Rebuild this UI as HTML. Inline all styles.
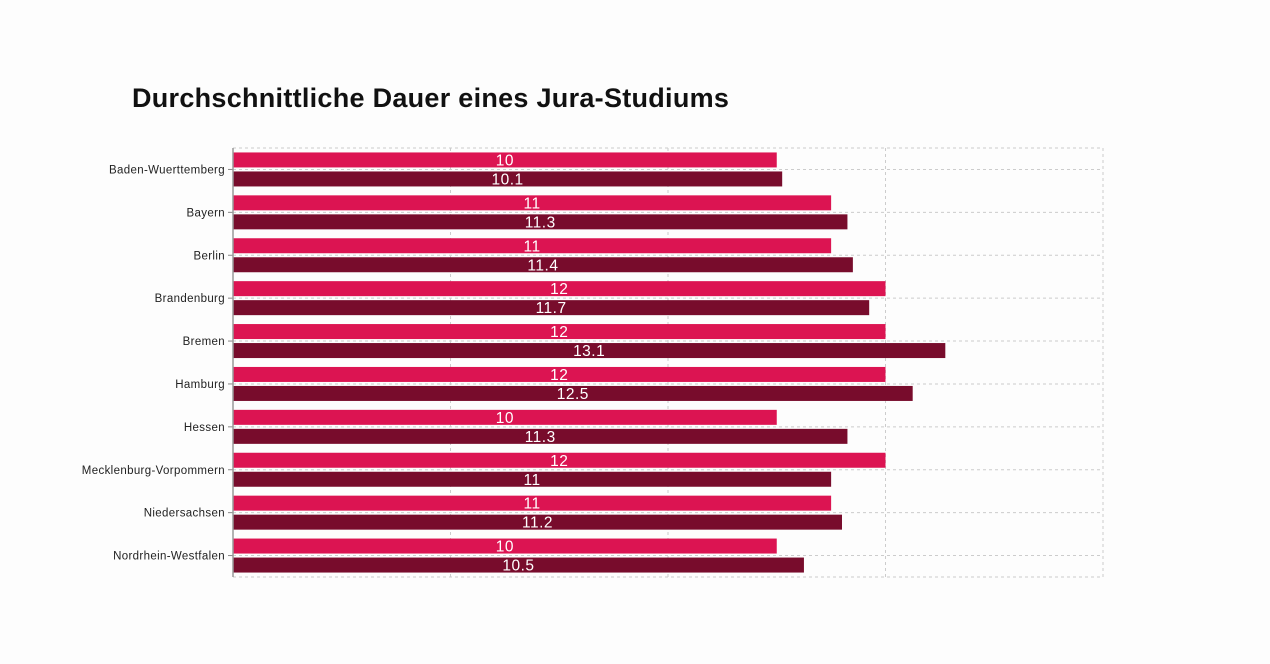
<!DOCTYPE html>
<html><head><meta charset="utf-8"><style>
body{margin:0;background:#fdfdfd;}
svg{display:block;font-family:"Liberation Sans",sans-serif;}
</style></head><body>
<svg id="chart" width="1270" height="664">
<text x="132" y="107" font-size="27" font-weight="bold" letter-spacing="0.28" fill="#111">Durchschnittliche Dauer eines Jura-Studiums</text>
<g id="grid"></g><g id="bars"></g><g id="axis"></g>
</svg>
<script>
const categories=["Baden-Wuerttemberg","Bayern","Berlin","Brandenburg","Bremen","Hamburg","Hessen","Mecklenburg-Vorpommern","Niedersachsen","Nordrhein-Westfalen"];
const series1=[10,11,11,12,12,12,10,12,11,10];
const series2=[10.1,11.3,11.4,11.7,13.1,12.5,11.3,11,11.2,10.5];
const xTicks=[0,4,8,12,16];
const NS="http://www.w3.org/2000/svg";
const x0=233,x1=1103,y0=148,y1=577,xMax=16;
const band=(y1-y0)/categories.length;
const xs=v=>x0+(v/xMax)*(x1-x0);
const ys=i=>y0+band*i;
function mk(t,a,p){const e=document.createElementNS(NS,t);for(const k in a)e.setAttribute(k,a[k]);p.appendChild(e);return e;}
const grid=document.getElementById('grid'),bars=document.getElementById('bars'),axis=document.getElementById('axis');
xTicks.forEach(t=>{const l=mk('line',{x1:xs(t),x2:xs(t),y1:y0,y2:y1,stroke:'#ccc','stroke-dasharray':'3,3'},grid);

});
mk('line',{x1:x0,x2:x1,y1:y0,y2:y0,stroke:'#ccc','stroke-dasharray':'3,3'},grid);
mk('line',{x1:x0,x2:x1,y1:y1,y2:y1,stroke:'#ccc','stroke-dasharray':'3,3'},grid);
categories.forEach((c,i)=>{
 const cy=ys(i)+band/2;
 const b1=mk('rect',{x:x0,y:cy-17,width:xs(series1[i])-x0,height:15,fill:'#dc1452'},bars);
 
 
 const b2=mk('rect',{x:x0,y:cy+2,width:xs(series2[i])-x0,height:15,fill:'#780c2c'},bars);
 
 
 const g=mk('line',{x1:x0,x2:x1,y1:cy,y2:cy,stroke:'#ccc','stroke-dasharray':'3,3'},grid);
 
 
 const t1=mk('text',{x:(x0+xs(series1[i]))/2,y:cy-4,'text-anchor':'middle','font-size':15.5,'letter-spacing':0.5,fill:'#fff'},bars);t1.textContent=series1[i];
 
 
 const t2=mk('text',{x:(x0+xs(series2[i]))/2,y:cy+15,'text-anchor':'middle','font-size':15.5,'letter-spacing':0.5,fill:'#fff'},bars);t2.textContent=series2[i];
 
 
 mk('line',{x1:x0-5,x2:x0,y1:cy,y2:cy,stroke:'#888'},axis);
 const lb=mk('text',{x:x0-8,y:cy+4,'text-anchor':'end','font-size':11.5,'letter-spacing':0.35,fill:'#222'},axis);lb.textContent=c;
 
 
});
const ax=mk('line',{x1:x0,x2:x0,y1:y0,y2:y1,stroke:'#999','stroke-width':1.5},axis);


</script>
</body></html>
